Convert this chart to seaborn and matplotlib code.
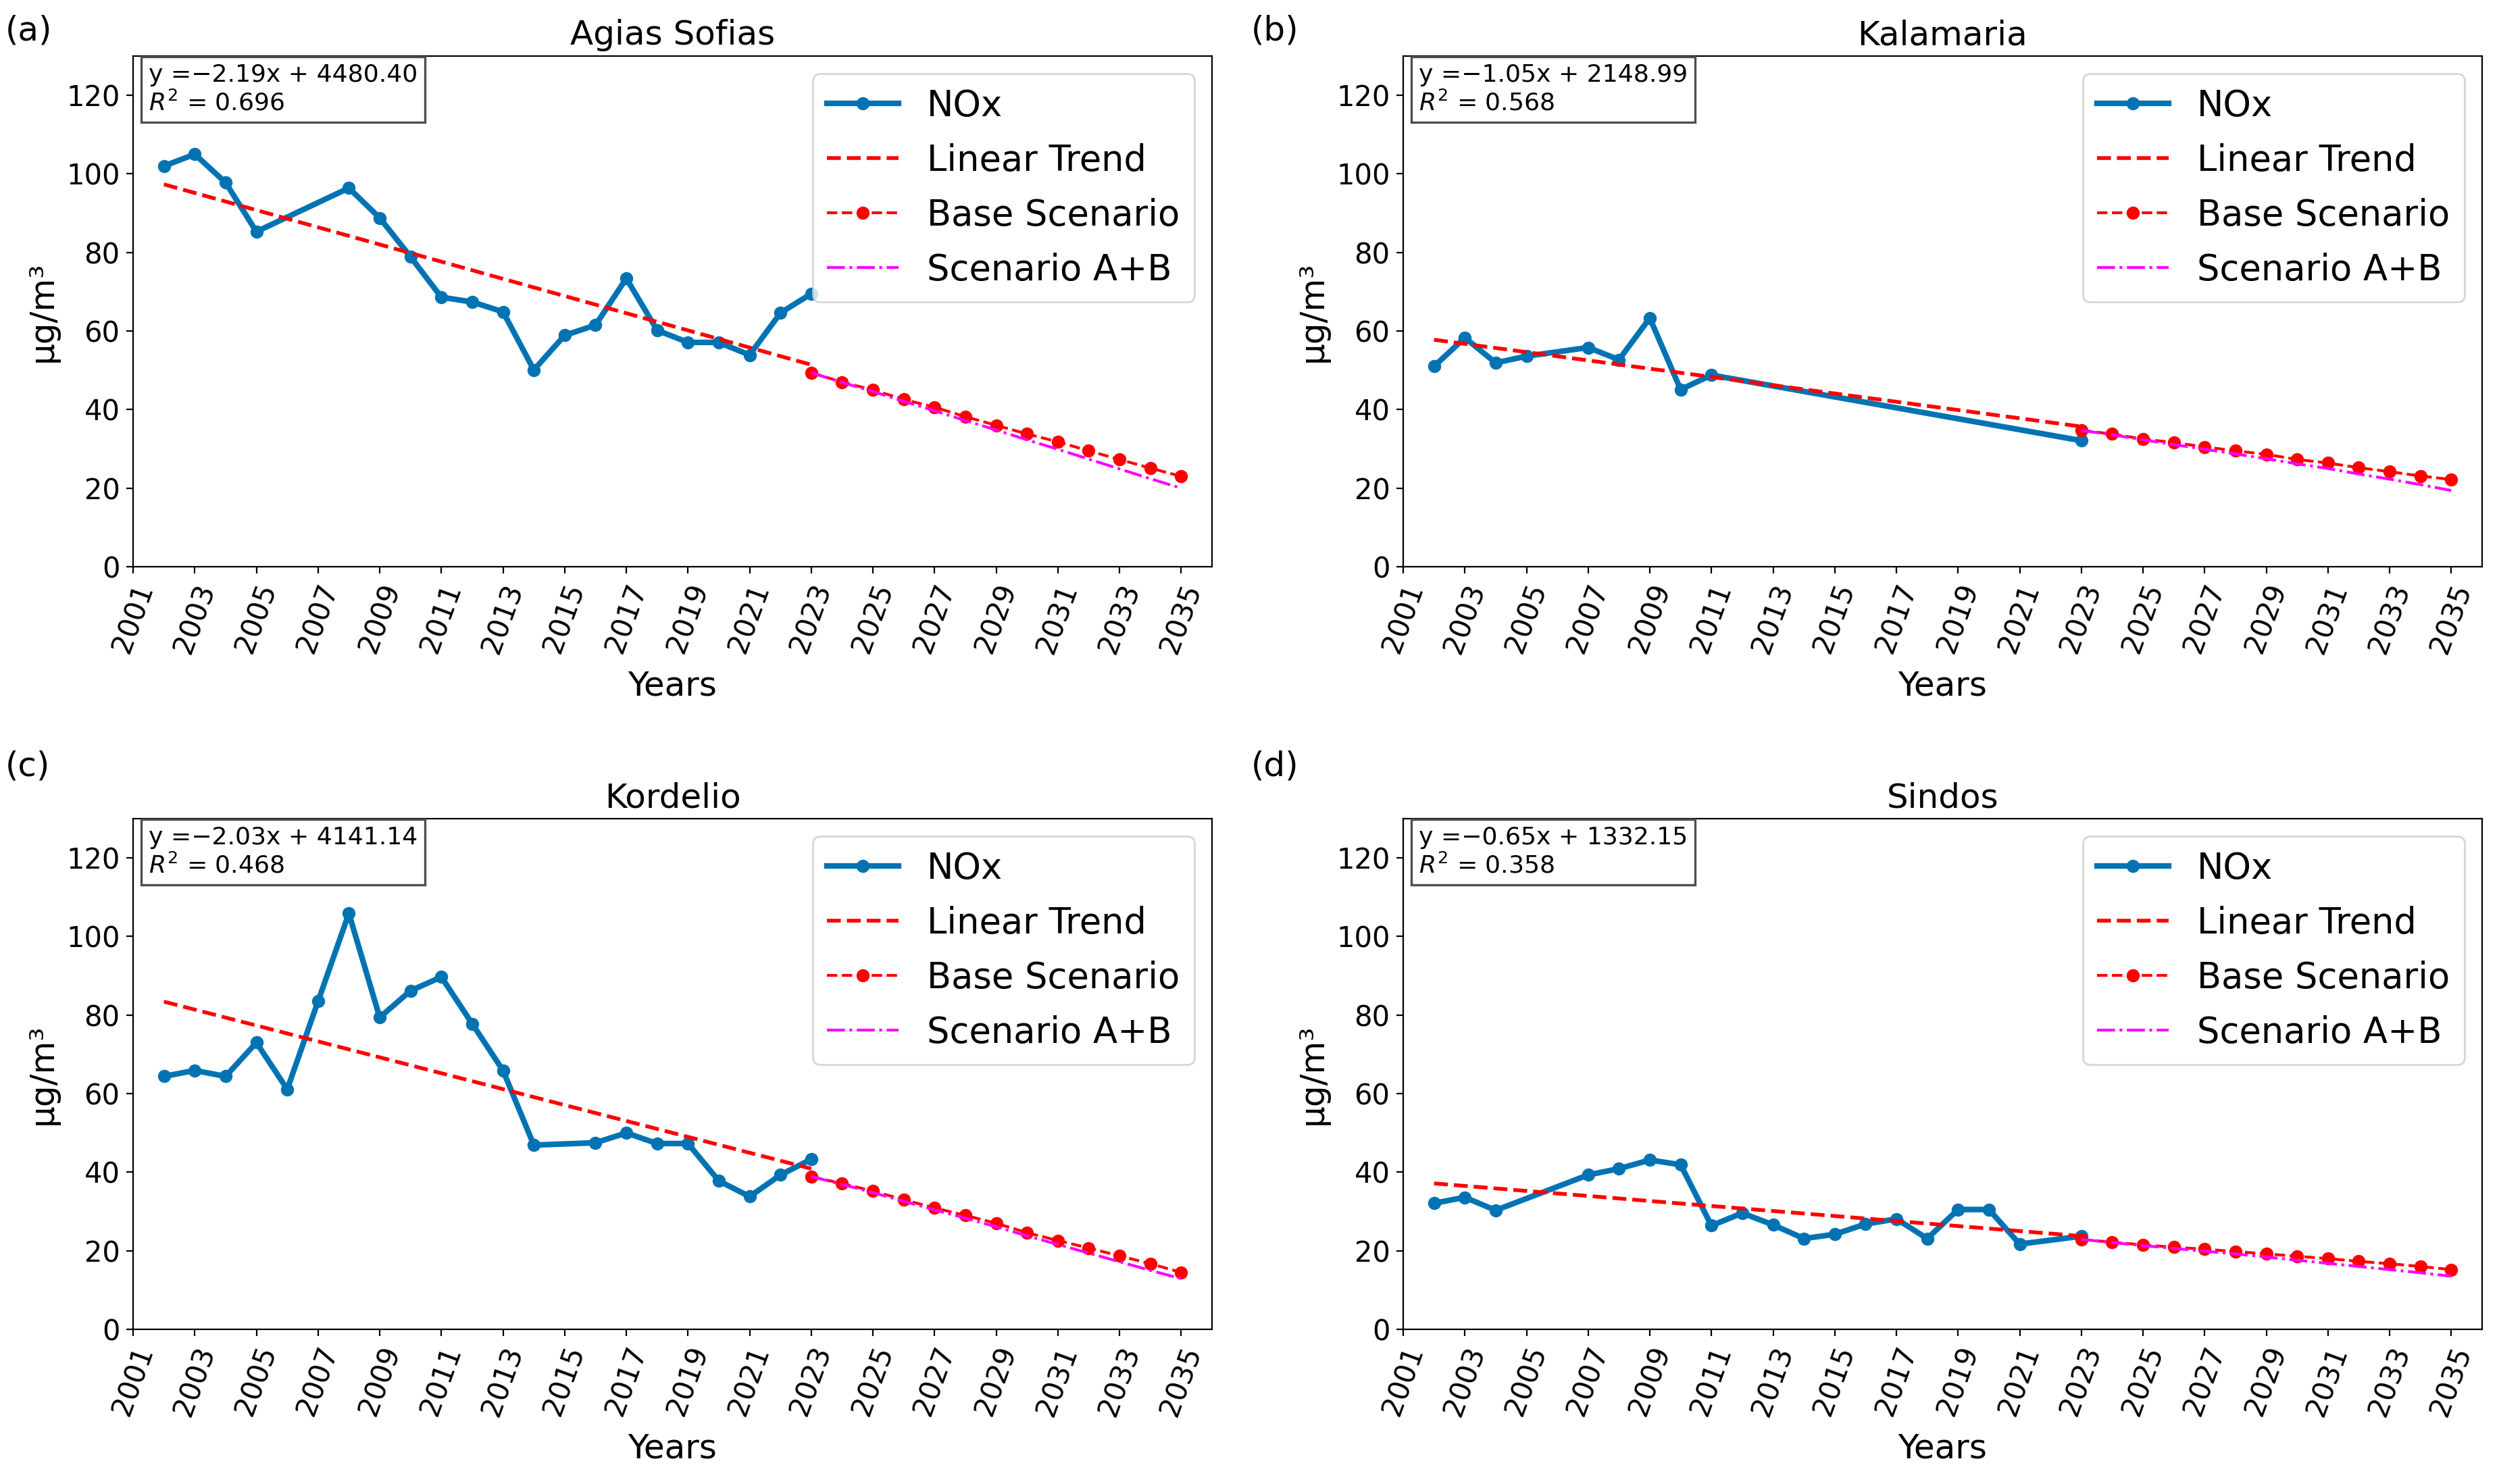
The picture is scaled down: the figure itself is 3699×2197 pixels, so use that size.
import numpy as np
import pandas as pd
import matplotlib
matplotlib.use("Agg")
import matplotlib.pyplot as plt
import seaborn as sns

# ---------------- data ----------------
stations = ["Agias Sofias", "Kalamaria", "Kordelio", "Sindos"]
panel_labels = ["(a)", "(b)", "(c)", "(d)"]

years_agias = [2002, 2003, 2004, 2005, 2008, 2009, 2010, 2011, 2012, 2013, 2014,
               2015, 2016, 2017, 2018, 2019, 2020, 2021, 2022, 2023]
nox_agias = [102.0, 105.0, 97.8, 85.3, 96.4, 88.8, 78.9, 68.6, 67.4, 64.9, 50.1,
             58.9, 61.5, 73.4, 60.2, 57.1, 57.1, 53.9, 64.6, 69.5]

years_kalamaria = [2002, 2003, 2004, 2005, 2007, 2008, 2009, 2010, 2011, 2023]
nox_kalamaria = [51.0, 58.3, 51.9, 53.6, 55.8, 52.7, 63.3, 45.1, 48.8, 32.1]

years_kordelio = [2002, 2003, 2004, 2005, 2006, 2007, 2008, 2009, 2010, 2011, 2012,
                  2013, 2014, 2016, 2017, 2018, 2019, 2020, 2021, 2022, 2023]
nox_kordelio = [64.4, 65.9, 64.4, 73.0, 61.1, 83.5, 105.9, 79.4, 86.2, 89.7, 77.8,
                65.9, 46.9, 47.5, 50.0, 47.3, 47.3, 37.8, 33.8, 39.3, 43.3]

years_sindos = [2002, 2003, 2004, 2007, 2008, 2009, 2010, 2011, 2012, 2013, 2014,
                2015, 2016, 2017, 2018, 2019, 2020, 2021, 2023]
nox_sindos = [32.1, 33.6, 30.3, 39.3, 40.9, 43.1, 41.9, 26.4, 29.6, 26.6, 23.1,
              24.2, 26.8, 28.1, 23.1, 30.5, 30.5, 21.7, 23.7]

scenario_years = [2023, 2024, 2025, 2026, 2027, 2028, 2029, 2030, 2031, 2032, 2033, 2034, 2035]
base_agias = [49.4, 47.0, 45.0, 42.6, 40.6, 38.2, 36.0, 33.8, 31.8, 29.5, 27.3, 25.1, 23.0]
ab_agias = [49.4, 46.9, 44.6, 42.1, 39.7, 37.2, 34.8, 32.3, 29.9, 27.4, 24.9, 22.4, 20.0]
base_kalamaria = [34.7, 33.8, 32.5, 31.6, 30.5, 29.5, 28.6, 27.3, 26.4, 25.2, 24.2, 23.1, 22.2]
ab_kalamaria = [34.7, 33.6, 32.3, 31.1, 29.9, 28.7, 27.5, 26.2, 25.0, 23.6, 22.3, 20.9, 19.4]
base_kordelio = [38.9, 37.1, 35.2, 33.0, 30.9, 29.0, 27.0, 24.6, 22.6, 20.7, 18.7, 16.7, 14.5]
ab_kordelio = [38.9, 36.9, 34.8, 32.6, 30.4, 28.3, 26.1, 23.8, 21.6, 19.4, 17.2, 15.0, 12.9]
base_sindos = [22.9, 22.2, 21.5, 20.9, 20.4, 19.8, 19.2, 18.6, 18.0, 17.3, 16.7, 16.0, 15.2]
ab_sindos = [22.9, 22.1, 21.3, 20.6, 19.9, 19.2, 18.4, 17.6, 16.8, 16.0, 15.2, 14.4, 13.5]

eq_texts = ["y =\u22122.19x + 4480.40", "y =\u22121.05x + 2148.99",
            "y =\u22122.03x + 4141.14", "y =\u22120.65x + 1332.15"]
r2_texts = ["0.696", "0.568", "0.468", "0.358"]

xticks = list(range(2001, 2036, 2))
yticks = [0, 20, 40, 60, 80, 100, 120]

obs_years = [years_agias, years_kalamaria, years_kordelio, years_sindos]
obs_vals = [nox_agias, nox_kalamaria, nox_kordelio, nox_sindos]
base_vals = [base_agias, base_kalamaria, base_kordelio, base_sindos]
ab_vals = [ab_agias, ab_kalamaria, ab_kordelio, ab_sindos]

# ---------------- style ----------------
blue = "#0173B2"

fig = plt.figure(figsize=(18.495, 10.985), dpi=200)
gs = fig.add_gridspec(2, 2, left=0.05326, right=0.99324, top=0.96222, bottom=0.10423,
                      wspace=0.1772, hspace=0.4934)

for i in range(4):
    ax = fig.add_subplot(gs[i // 2, i % 2])
    yrs = np.array(obs_years[i], dtype=float)
    vals = np.array(obs_vals[i], dtype=float)
    df = pd.DataFrame({"year": yrs, "nox": vals})

    sns.lineplot(data=df, x="year", y="nox", ax=ax, color=blue, linewidth=3,
                 marker="o", markersize=6, markeredgecolor=blue,
                 markeredgewidth=1, label="NOx")

    slope, intercept = np.polyfit(yrs, vals, 1)
    trend = pd.DataFrame({"year": [yrs.min(), yrs.max()]})
    trend["val"] = slope * trend["year"] + intercept
    sns.lineplot(data=trend, x="year", y="val", ax=ax, color="red",
                 linestyle="--", linewidth=2, label="Linear Trend")

    sc = pd.DataFrame({"year": scenario_years, "base": base_vals[i], "ab": ab_vals[i]})
    sns.lineplot(data=sc, x="year", y="base", ax=ax, color="red", linestyle="--",
                 linewidth=1.5, marker="o", markersize=6, markeredgecolor="red",
                 markeredgewidth=1, label="Base Scenario")
    sns.lineplot(data=sc, x="year", y="ab", ax=ax, color="magenta", linestyle="-.",
                 linewidth=1.5, label="Scenario A+B")

    ax.set_xlim(2001, 2036)
    ax.set_ylim(0, 130)
    ax.set_xticks(xticks)
    ax.set_yticks(yticks)
    ax.tick_params(axis="both", labelsize=15)
    ax.tick_params(axis="x", labelrotation=70)
    ax.set_xlabel("Years", fontsize=18, labelpad=7)
    ax.set_ylabel("\u00b5g/m\u00b3", fontsize=18)
    ax.set_title(stations[i], fontsize=18)

    ax.legend(loc="upper right", fontsize=19, labelspacing=0.55)
    ax.text(0.0145, 0.985, eq_texts[i] + "\n" + "$R^2$ = " + r2_texts[i],
            transform=ax.transAxes, fontsize=13, va="top", ha="left",
            bbox=dict(boxstyle="square,pad=0.3", facecolor="white",
                      edgecolor="0.3", linewidth=1.2))

label_pos = [(0.002, 0.9795), (0.5007, 0.9795), (0.002, 0.4834), (0.5007, 0.4834)]
for lab, (x, y) in zip(panel_labels, label_pos):
    fig.text(x, y, lab, fontsize=18, ha="left", va="center")

fig.savefig("out.png", dpi=200)
